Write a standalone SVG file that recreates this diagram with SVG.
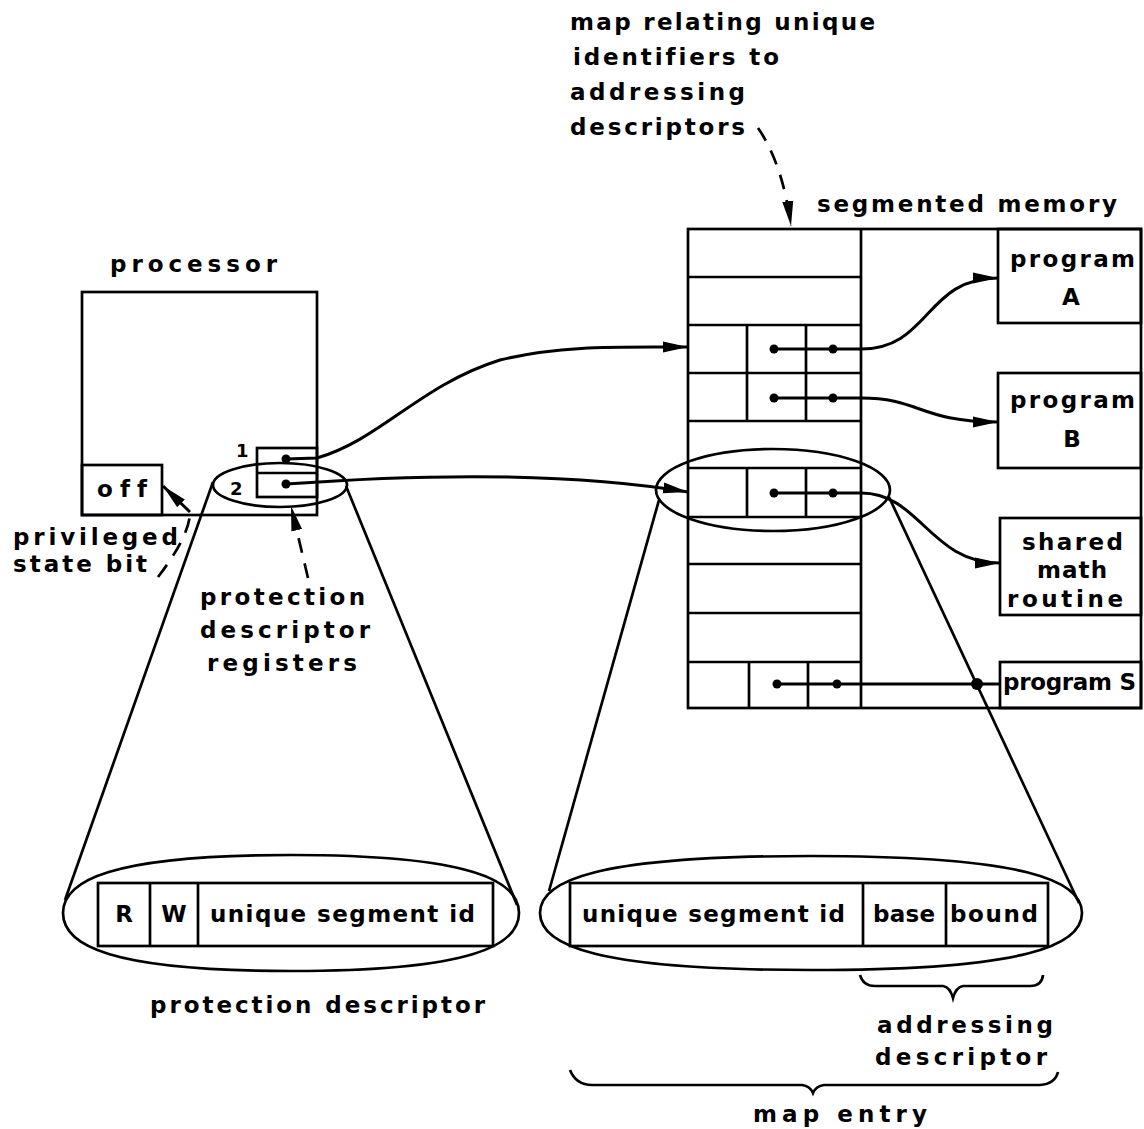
<svg xmlns="http://www.w3.org/2000/svg" width="1144" height="1129" viewBox="0 0 1144 1129">
<defs>
<style>
.ln{stroke:#000;stroke-width:2.7;fill:none}
.cn{stroke:#000;stroke-width:3;fill:none}
.ds{stroke:#000;stroke-width:2.7;fill:none;stroke-dasharray:15 11}
.dot{fill:#000}
text{font-family:"DejaVu Sans","Liberation Sans",sans-serif;font-size:23px;font-weight:bold;fill:#000;font-variant-ligatures:none}
.sm{font-size:18px}
</style>
<marker id="ah" markerUnits="userSpaceOnUse" markerWidth="28" markerHeight="14" refX="25" refY="7" orient="auto"><path d="M0,1.5 L25,7 L0,12.5 Z" fill="#000"/></marker>
</defs>
<rect width="1144" height="1129" fill="#fff"/>

<g id="map-label">
<text x="570" y="30" textLength="305" lengthAdjust="spacing">map relating unique</text>
<text x="573" y="65" textLength="206" lengthAdjust="spacing">identifiers to</text>
<text x="570" y="100" textLength="175" lengthAdjust="spacing">addressing</text>
<text x="570" y="135" textLength="175" lengthAdjust="spacing">descriptors</text>
</g>

<g id="processor">
<text x="110" y="272" textLength="167" lengthAdjust="spacing">processor</text>
<rect class="ln" x="82" y="292" width="235" height="223"/>
<rect class="ln" x="82" y="465" width="80" height="50"/>
<text x="97" y="497" textLength="50" lengthAdjust="spacing">off</text>
</g>

<g id="registers">
<rect class="ln" x="257" y="448" width="60" height="49"/>
<line class="ln" x1="257" y1="473" x2="317" y2="473"/>
<text class="sm" x="236" y="457">1</text>
<text class="sm" x="230" y="495">2</text>
<circle class="dot" cx="286" cy="459" r="4.5"/>
<circle class="dot" cx="286" cy="484" r="4.5"/>
<ellipse class="ln" cx="280" cy="485" rx="67" ry="22"/>
</g>

<g id="privileged-label">
<text x="13" y="545" textLength="165" lengthAdjust="spacing">privileged</text>
<text x="13" y="572" textLength="134" lengthAdjust="spacing">state bit</text>
</g>

<g id="registers-label">
<text x="200" y="605" textLength="165" lengthAdjust="spacing">protection</text>
<text x="200" y="638" textLength="170" lengthAdjust="spacing">descriptor</text>
<text x="207" y="671" textLength="150" lengthAdjust="spacing">registers</text>
</g>

<g id="segmented-memory">
<text x="817" y="212" textLength="300" lengthAdjust="spacing">segmented memory</text>
<rect class="ln" x="688" y="229" width="453" height="479"/>
<line class="ln" x1="861" y1="229" x2="861" y2="708"/>
<path class="ln" d="M688,277H861M688,325H861M688,373H861M688,421H861M688,468H861M688,517H861M688,564H861M688,613H861M688,662H861"/>
<path class="ln" d="M747,325V421M806,325V421M747,468V517M806,468V517M749,662V708M808,662V708"/>
<circle class="dot" cx="774" cy="349" r="4.5"/>
<circle class="dot" cx="833" cy="349" r="4.5"/>
<circle class="dot" cx="774" cy="398" r="4.5"/>
<circle class="dot" cx="833" cy="398" r="4.5"/>
<circle class="dot" cx="774" cy="493" r="4.5"/>
<circle class="dot" cx="833" cy="493" r="4.5"/>
<circle class="dot" cx="777" cy="684" r="4.5"/>
<circle class="dot" cx="837" cy="684" r="4.5"/>
<ellipse class="ln" cx="773" cy="490" rx="117" ry="41"/>
</g>

<g id="program-a">
<rect class="ln" x="998" y="229" width="143" height="94"/>
<text x="1010" y="267" textLength="125" lengthAdjust="spacing">program</text>
<text x="1071" y="305" text-anchor="middle">A</text>
</g>
<g id="program-b">
<rect class="ln" x="998" y="373" width="143" height="95"/>
<text x="1010" y="408" textLength="125" lengthAdjust="spacing">program</text>
<text x="1072" y="447" text-anchor="middle">B</text>
</g>
<g id="shared-math">
<rect class="ln" x="1000" y="518" width="141" height="97"/>
<text x="1022" y="550" textLength="101" lengthAdjust="spacing">shared</text>
<text x="1037" y="578" textLength="70" lengthAdjust="spacing">math</text>
<text x="1007" y="607" textLength="116" lengthAdjust="spacing">routine</text>
</g>
<g id="program-s">
<rect class="ln" x="1000" y="662" width="141" height="46"/>
<text x="1003" y="690" textLength="133" lengthAdjust="spacing">program S</text>
</g>

<g id="protection-descriptor">
<path class="ln" d="M63,913 C63,881 109,855 291,855 C473,855 519,881 519,913 C519,945 473,971 291,971 C109,971 63,945 63,913 Z"/>
<rect class="ln" x="98" y="883" width="395" height="63"/>
<line class="ln" x1="150" y1="883" x2="150" y2="946"/>
<line class="ln" x1="198" y1="883" x2="198" y2="946"/>
<text x="124" y="922" text-anchor="middle">R</text>
<text x="174" y="922" text-anchor="middle">W</text>
<text x="210" y="922" textLength="265" lengthAdjust="spacing">unique segment id</text>
<text x="150" y="1013" textLength="335" lengthAdjust="spacing">protection descriptor</text>
</g>

<g id="map-entry">
<path class="ln" d="M540,913 C540,881 594,856 811,856 C1028,856 1082,881 1082,913 C1082,945 1028,970 811,970 C594,970 540,945 540,913 Z"/>
<rect class="ln" x="570" y="883" width="478" height="63"/>
<line class="ln" x1="863" y1="883" x2="863" y2="946"/>
<line class="ln" x1="946" y1="883" x2="946" y2="946"/>
<text x="582" y="922" textLength="263" lengthAdjust="spacing">unique segment id</text>
<text x="873" y="922" textLength="62" lengthAdjust="spacing">base</text>
<text x="950" y="922" textLength="88" lengthAdjust="spacing">bound</text>
<path class="ln" d="M860,975 Q863,986 875,986 L943,986 Q950,987 953,998 Q956,987 963,986 L1030,986 Q1042,986 1043,975"/>
<text x="877" y="1033" textLength="176" lengthAdjust="spacing">addressing</text>
<text x="875" y="1065" textLength="172" lengthAdjust="spacing">descriptor</text>
<path class="ln" d="M570,1070 Q576,1085 592,1085 L802,1085 Q810,1086 813,1093 Q816,1086 824,1085 L1040,1085 Q1055,1084 1058,1072"/>
<text x="753" y="1122" textLength="174" lengthAdjust="spacing">map entry</text>
</g>

<g id="connectors">
<path class="cn" d="M286,459 L317,458 C380,440 420,385 500,360 C560,345 620,347 688,347" marker-end="url(#ah)"/>
<path class="cn" d="M286,484 C450,472 580,474 688,492" marker-end="url(#ah)"/>
<path class="cn" d="M774,349 L861,349 C930,349 925,278 998,278" marker-end="url(#ah)"/>
<path class="cn" d="M774,398 L861,398 C920,398 920,422 998,422" marker-end="url(#ah)"/>
<path class="cn" d="M774,493 L861,493 C920,493 930,563 1000,563" marker-end="url(#ah)"/>
<path class="cn" d="M777,684 L1000,684"/>
<circle class="dot" cx="977" cy="684" r="6"/>
<line class="ln" x1="213" y1="482" x2="65" y2="900"/>
<line class="ln" x1="346" y1="486" x2="517" y2="905"/>
<line class="ln" x1="659" y1="500" x2="549" y2="891"/>
<line class="ln" x1="889" y1="497" x2="1079" y2="903"/>
<path class="ds" d="M758,128 C772,148 785,180 791,226" marker-end="url(#ah)"/>
<path class="ds" d="M308,578 L291,506" marker-end="url(#ah)"/>
<path class="ds" d="M158,577 C175,555 190,530 190,512"/>
<path class="cn" d="M190,512 L163,486" marker-end="url(#ah)"/>
</g>
</svg>
